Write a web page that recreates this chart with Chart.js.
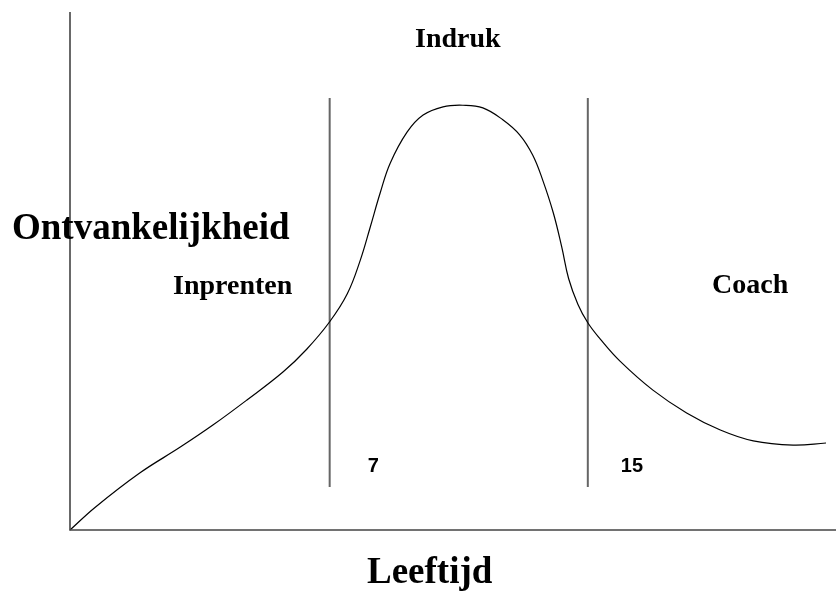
<!DOCTYPE html>
<html>
<head>
<meta charset="utf-8">
<style>
  html, body { margin: 0; padding: 0; background: #fff; }
  #wrap { width: 836px; height: 591px; position: relative; }
</style>
<script src="https://cdn.jsdelivr.net/npm/chart.js@4/dist/chart.umd.min.js"></script>
</head>
<body>
<div id="wrap"><canvas id="c" width="836" height="591"></canvas></div>
<script>
// Curve: receptiveness (Ontvankelijkheid) over age (Leeftijd), arbitrary 0-100 units
const curveX = [0, 3.3, 9.1, 14.4, 18.7, 23.1, 27.8, 30.9, 33.9, 36.2, 37.9, 39.2, 40.5, 41.8, 44.0, 46.1, 48.7, 51.3, 53.9, 56.5, 58.7, 60.4, 61.7, 63.1, 64.2, 65.1, 66.3, 67.6, 69.2, 71.8, 76.1, 80.5, 84.9, 89.2, 94.4, 98.7];
const curveY = [0, 4.4, 11.0, 16.0, 20.3, 25.1, 30.5, 34.9, 40.2, 45.6, 52.1, 58.5, 65.1, 70.8, 76.8, 80.1, 81.7, 82.0, 81.5, 79.2, 76.3, 72.4, 67.6, 61.2, 54.6, 48.5, 43.6, 40.0, 36.9, 32.6, 27.0, 22.6, 19.3, 17.2, 16.4, 16.8];

// Phase boundaries (ages 7 and 15)
const boundaryX = [33.9, 67.6];
const boundaryLabels = ['7', '15'];
const boundaryYRange = [8.3, 83.4];

const phaseLabels = ['Inprenten', 'Indruk', 'Coach'];
const yTitle = 'Ontvankelijkheid';
const xTitle = 'Leeftijd';

const curveData = curveX.map((x, i) => ({ x: x, y: curveY[i] }));
const boundarySets = boundaryX.map((bx, i) => ({
  label: 'grens ' + boundaryLabels[i],
  data: [{ x: bx, y: boundaryYRange[0] }, { x: bx, y: boundaryYRange[1] }],
  borderColor: '#666',
  borderWidth: 2,
  pointRadius: 0,
  tension: 0,
  clip: false
}));

const decor = {
  id: 'decor',
  afterDatasetsDraw(chart) {
    const ctx = chart.ctx;
    const a = chart.chartArea;
    ctx.save();
    // axes
    ctx.strokeStyle = '#444';
    ctx.lineWidth = 1.6;
    ctx.beginPath();
    ctx.moveTo(a.left, a.top);
    ctx.lineTo(a.left, a.bottom);
    ctx.lineTo(a.right, a.bottom);
    ctx.stroke();
    // texts
    ctx.fillStyle = '#000';
    ctx.textAlign = 'left';
    ctx.textBaseline = 'alphabetic';
    ctx.font = 'bold 37px "Liberation Serif", "Times New Roman", serif';
    ctx.fillText(yTitle, 12, 239);
    ctx.fillText(xTitle, 367, 583);
    ctx.font = 'bold 28px "Liberation Serif", "Times New Roman", serif';
    ctx.fillText(phaseLabels[0], 173, 294);
    ctx.fillText(phaseLabels[1], 415, 47);
    ctx.fillText(phaseLabels[2], 712, 293);
    ctx.font = 'bold 20px "Liberation Sans", Arial, sans-serif';
    const xs = chart.scales.x;
    ctx.fillText(boundaryLabels[0], xs.getPixelForValue(boundaryX[0]) + 38, 472);
    ctx.fillText(boundaryLabels[1], xs.getPixelForValue(boundaryX[1]) + 33, 472);
    ctx.restore();
  }
};

new Chart(document.getElementById('c'), {
  type: 'line',
  data: {
    datasets: [
      {
        label: yTitle,
        data: curveData,
        borderColor: '#000',
        borderWidth: 1.2,
        pointRadius: 0,
        tension: 0.4,
        fill: false,
        clip: false
      },
      ...boundarySets
    ]
  },
  options: {
    responsive: false,
    animation: false,
    events: [],
    layout: { padding: { left: 70, top: 12, right: 0, bottom: 61 } },
    plugins: { legend: { display: false }, tooltip: { enabled: false }, title: { display: false } },
    scales: {
      x: { type: 'linear', min: 0, max: 100, display: false },
      y: { type: 'linear', min: 0, max: 100, display: false }
    }
  },
  plugins: [decor]
});
</script>
</body>
</html>
